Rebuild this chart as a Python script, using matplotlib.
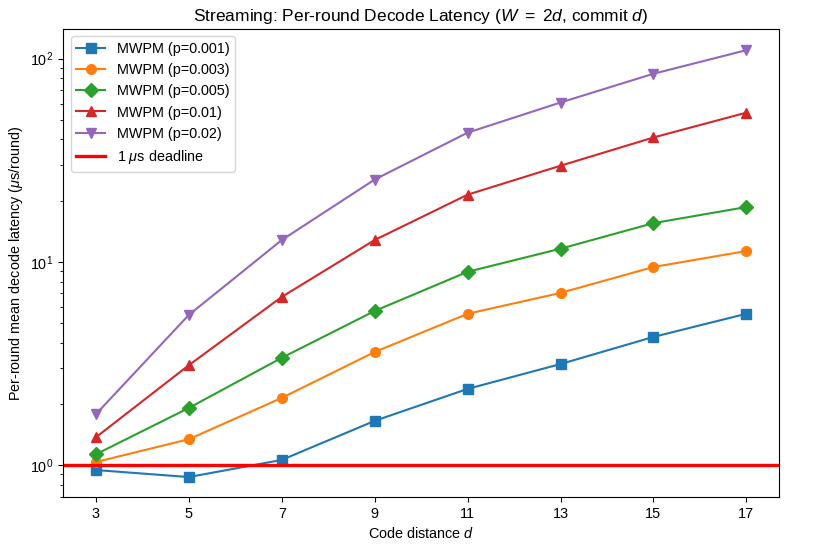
import numpy as np
import matplotlib.pyplot as plt

plt.rcParams['font.family'] = ['Liberation Sans', 'DejaVu Sans']
plt.rcParams['font.size'] = 10.4
plt.rcParams['mathtext.fontset'] = 'custom'
plt.rcParams['mathtext.it'] = 'Liberation Sans:italic'
plt.rcParams['mathtext.rm'] = 'Liberation Sans'
plt.rcParams['lines.markersize'] = 7

# Code distances
d = [3, 5, 7, 9, 11, 13, 15, 17]

# Per-round mean decode latency (us/round)
lat_p001 = [0.945, 0.873, 1.06, 1.65, 2.37, 3.14, 4.27, 5.55]
lat_p003 = [1.035, 1.34, 2.14, 3.60, 5.55, 7.03, 9.43, 11.3]
lat_p005 = [1.13, 1.91, 3.37, 5.73, 8.93, 11.6, 15.5, 18.6]
lat_p01 = [1.37, 3.10, 6.72, 12.8, 21.4, 29.7, 40.9, 54.2]
lat_p02 = [1.78, 5.48, 12.8, 25.4, 43.2, 60.8, 84.2, 110]

deadline = 1.0

fig, ax = plt.subplots(figsize=(8.13, 5.45), dpi=100)
ax.plot(d, lat_p001, marker='s', label='MWPM (p=0.001)')
ax.plot(d, lat_p003, marker='o', label='MWPM (p=0.003)')
ax.plot(d, lat_p005, marker='D', label='MWPM (p=0.005)')
ax.plot(d, lat_p01, marker='^', label='MWPM (p=0.01)')
ax.plot(d, lat_p02, marker='v', label='MWPM (p=0.02)')
ax.axhline(deadline, color='red', linewidth=2.4, label=r'1 $\mu$s deadline')

ax.set_yscale('log')
ax.set_xticks(d)
ax.set_ylim(0.696, 140)
ax.set_xlabel('Code distance $d$')
ax.set_ylabel(r'Per-round mean decode latency ($\mu$s/round)')
ax.set_title(r'Streaming: Per-round Decode Latency ($W\ =\ 2d$, commit $d$)')
ax.legend(loc='upper left')

fig.subplots_adjust(left=0.078, right=0.958, top=0.947, bottom=0.088)
fig.savefig('out.png')
